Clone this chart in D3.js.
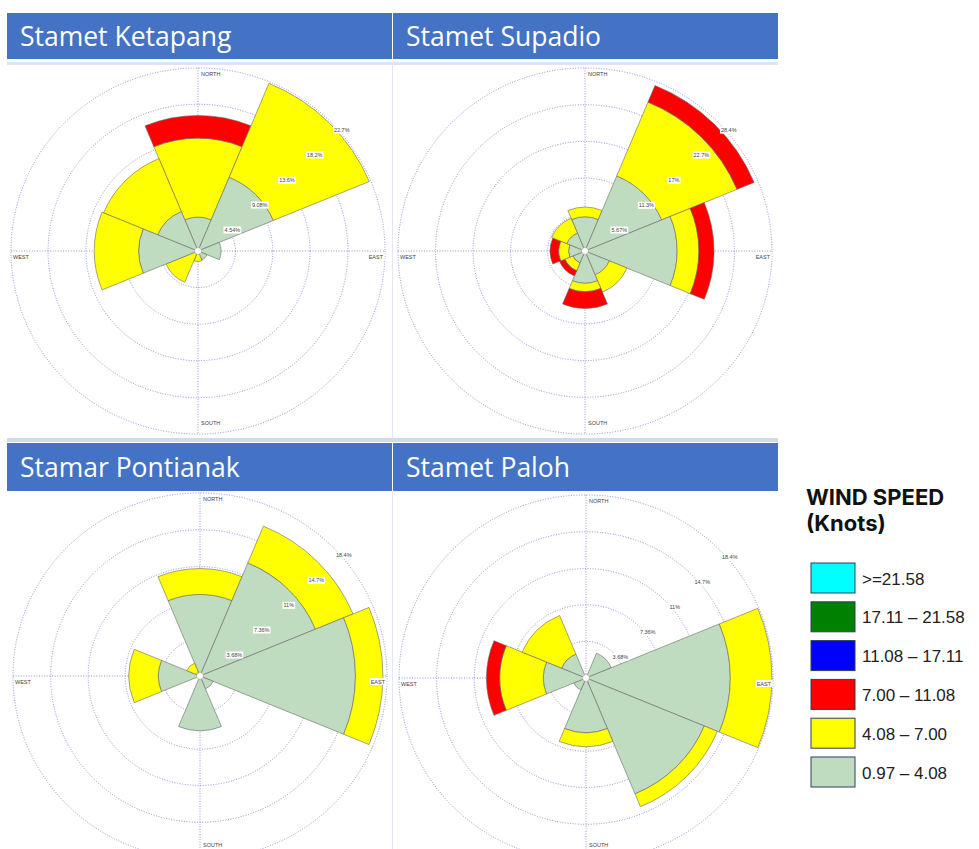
<!DOCTYPE html>
<html>
<head>
<meta charset="utf-8">
<script src="https://cdn.jsdelivr.net/npm/d3@7.9.0/dist/d3.min.js"></script>
<style>
  body { margin: 0; background: #fff; }
  svg { display: block; }
</style>
</head>
<body>
<svg id="chart" width="979" height="849"></svg>
<script>
const directions = ['N', 'NE', 'E', 'SE', 'S', 'SW', 'W', 'NW'];
const speedBins = ['>=21.58', '17.11 – 21.58', '11.08 – 17.11', '7.00 – 11.08', '4.08 – 7.00', '0.97 – 4.08'];
const stations = ['Stamet Ketapang', 'Stamet Supadio', 'Stamar Pontianak', 'Stamet Paloh'];

// frequency (%) per direction, one array per speed class (0.97-4.08, 4.08-7.00, 7.00-11.08)
const ketapangLow  = [4.2, 9.9, 2.8, 1.2, 0.2, 0.4, 7.2, 5.3];
const ketapangMid  = [9.8, 12.6, 0, 0, 1.1, 3.8, 5.4, 7.1];
const ketapangHigh = [2.8, 0, 0, 0, 0, 0, 0, 0];
const ketapangTicks = [4.54, 9.08, 13.6, 18.2, 22.7];

const supadioLow  = [5.3, 12.6, 14.0, 4.0, 5.0, 2.0, 2.5, 3.0];
const supadioMid  = [1.5, 12.4, 3.3, 2.9, 1.3, 1.3, 1.5, 2.5];
const supadioHigh = [0, 2.8, 2.3, 0, 2.6, 0.9, 1.3, 0];
const supadioTicks = [5.67, 11.3, 17, 22.7, 28.4];

const pontianakLow  = [8.2, 12.3, 15.3, 1.4, 5.5, 0, 4.1, 0.4];
const pontianakMid  = [2.6, 4.0, 2.7, 0, 0, 0, 2.9, 1.0];
const pontianakHigh = [0, 0, 0, 0, 0, 0, 0, 0];
const pontianakTicks = [3.68, 7.36, 11, 14.7, 18.4];

const palohLow  = [0, 2.7, 14.2, 12.6, 5.5, 1.3, 4.2, 2.6];
const palohMid  = [0, 0, 4.1, 1.4, 1.4, 0, 4.3, 4.2];
const palohHigh = [0, 0, 0, 0, 0, 0, 1.3, 0];
const palohTicks = [3.68, 7.36, 11, 14.7, 18.4];

const legendColors = ['#00ffff', '#008000', '#0000ff', '#ff0000', '#ffff00', '#c0dcc0'];
const classColors = ['#c0dcc0', '#ffff00', '#ff0000'];

const R = 187;      // outer ring radius (px)
const ky = 0.979;   // reference is squashed a little vertically

const svg = d3.select('#chart');

const panels = [
  { name: stations[0], classes: [ketapangLow, ketapangMid, ketapangHigh], ticks: ketapangTicks, bx: 7, by: 13, bh: 46, cx: 198, cy: 251 },
  { name: stations[1], classes: [supadioLow, supadioMid, supadioHigh], ticks: supadioTicks, bx: 393, by: 13, bh: 46, cx: 585, cy: 251 },
  { name: stations[2], classes: [pontianakLow, pontianakMid, pontianakHigh], ticks: pontianakTicks, bx: 7, by: 443, bh: 48, cx: 200, cy: 676 },
  { name: stations[3], classes: [palohLow, palohMid, palohHigh], ticks: palohTicks, bx: 393, by: 443, bh: 48, cx: 586, cy: 678 },
];

// faint panel borders
svg.append('rect').attr('x', 7).attr('y', 62).attr('width', 771).attr('height', 3).attr('fill', '#dfe3f3');
svg.append('rect').attr('x', 7).attr('y', 438).attr('width', 771).attr('height', 4).attr('fill', '#d3d9ec');
svg.append('line').attr('x1', 392.5).attr('x2', 392.5).attr('y1', 62).attr('y2', 438).attr('stroke', '#e3e6f3');
svg.append('line').attr('x1', 392.5).attr('x2', 392.5).attr('y1', 491).attr('y2', 849).attr('stroke', '#e3e6f3');

function labelWithBg(g, x, y, text, anchor) {
  const t = g.append('text')
    .attr('x', x).attr('y', y)
    .attr('text-anchor', anchor)
    .attr('dominant-baseline', 'central')
    .attr('font-family', 'Liberation Sans, Arial, sans-serif')
    .attr('font-size', 5.5)
    .attr('fill', '#444')
    .text(text);
  const b = t.node().getBBox();
  g.insert('rect', () => t.node())
    .attr('x', b.x - 1).attr('y', b.y - 0.5)
    .attr('width', b.width + 2).attr('height', b.height + 1)
    .attr('fill', '#fff');
}

function drawRose(p) {
  const rScale = d3.scaleLinear()
    .domain([0, p.ticks[p.ticks.length - 1]])
    .range([0, R]);

  const g = svg.append('g')
    .attr('transform', `translate(${p.cx},${p.cy}) scale(1,${ky})`);

  // dotted grid
  const grid = g.append('g')
    .attr('fill', 'none')
    .attr('stroke', '#7474d6')
    .attr('stroke-width', 0.8)
    .attr('stroke-dasharray', '1,1.6');

  grid.selectAll('circle')
    .data(p.ticks)
    .join('circle')
    .attr('r', d => rScale(d));

  grid.append('line').attr('x1', -R).attr('x2', R).attr('y1', 0).attr('y2', 0);
  grid.append('line').attr('x1', 0).attr('x2', 0).attr('y1', -R).attr('y2', R);

  // stacked sectors
  const step = 2 * Math.PI / directions.length;
  const segs = [];
  directions.forEach((dir, i) => {
    let base = 0;
    p.classes.forEach((vals, k) => {
      const v = vals[i];
      if (v > 0) {
        segs.push({ dir, i, k, inner: base, outer: base + v });
      }
      base += v;
    });
  });

  const arc = d3.arc()
    .innerRadius(d => rScale(d.inner))
    .outerRadius(d => rScale(d.outer))
    .startAngle(d => d.i * step - step / 2)
    .endAngle(d => d.i * step + step / 2);

  g.append('g')
    .selectAll('path')
    .data(segs)
    .join('path')
    .attr('d', arc)
    .attr('fill', d => classColors[d.k])
    .attr('stroke', '#666')
    .attr('stroke-width', 0.6);

  g.append('circle')
    .attr('r', 3.5)
    .attr('fill', '#fff')
    .attr('stroke', '#888')
    .attr('stroke-width', 0.5);

  // labels (unscaled)
  const lg = svg.append('g').attr('transform', `translate(${p.cx},${p.cy})`);
  const th = 47 * Math.PI / 180;
  p.ticks.forEach(t => {
    const rr = rScale(t);
    labelWithBg(lg, rr * Math.sin(th) + 7, -rr * Math.cos(th) * ky + 4, t + '%', 'middle');
  });

  labelWithBg(lg, 3, -R * ky + 6, 'NORTH', 'start');
  labelWithBg(lg, 3, Math.min(R * ky - 11.5, 845 - p.cy), 'SOUTH', 'start');
  labelWithBg(lg, -R + 2, 5.5, 'WEST', 'start');
  labelWithBg(lg, R - 2, 5.5, 'EAST', 'end');

  // title bar
  svg.append('rect')
    .attr('x', p.bx).attr('y', p.by)
    .attr('width', 385).attr('height', p.bh)
    .attr('fill', '#4472c4');
  svg.append('text')
    .attr('x', p.bx + 13)
    .attr('y', p.bh / 2 + p.by + 10)
    .attr('font-family', 'Open Sans, sans-serif')
    .attr('font-size', 26.5)
    .attr('fill', '#fff')
    .text(p.name);
}

panels.forEach(drawRose);

// legend
const legend = svg.append('g');
legend.append('text')
  .attr('x', 806).attr('y', 505)
  .attr('font-family', 'Inter, sans-serif')
  .attr('font-weight', 700)
  .attr('font-size', 22)
  .attr('fill', '#111')
  .text('WIND SPEED');
legend.append('text')
  .attr('x', 806).attr('y', 531)
  .attr('font-family', 'Inter, sans-serif')
  .attr('font-weight', 700)
  .attr('font-size', 22)
  .attr('fill', '#111')
  .text('(Knots)');

const items = legend.selectAll('g.item')
  .data(speedBins)
  .join('g')
  .attr('class', 'item')
  .attr('transform', (d, i) => `translate(811,${563 + i * 38.8})`);

items.append('rect')
  .attr('width', 44).attr('height', 30)
  .attr('fill', (d, i) => legendColors[i])
  .attr('stroke', '#2f3f5f')
  .attr('stroke-width', 1);

items.append('text')
  .attr('x', 51).attr('y', 16)
  .attr('dominant-baseline', 'central')
  .attr('font-family', 'Liberation Sans, Arial, sans-serif')
  .attr('font-size', 17)
  .attr('fill', '#222')
  .text(d => d);
</script>
</body>
</html>
